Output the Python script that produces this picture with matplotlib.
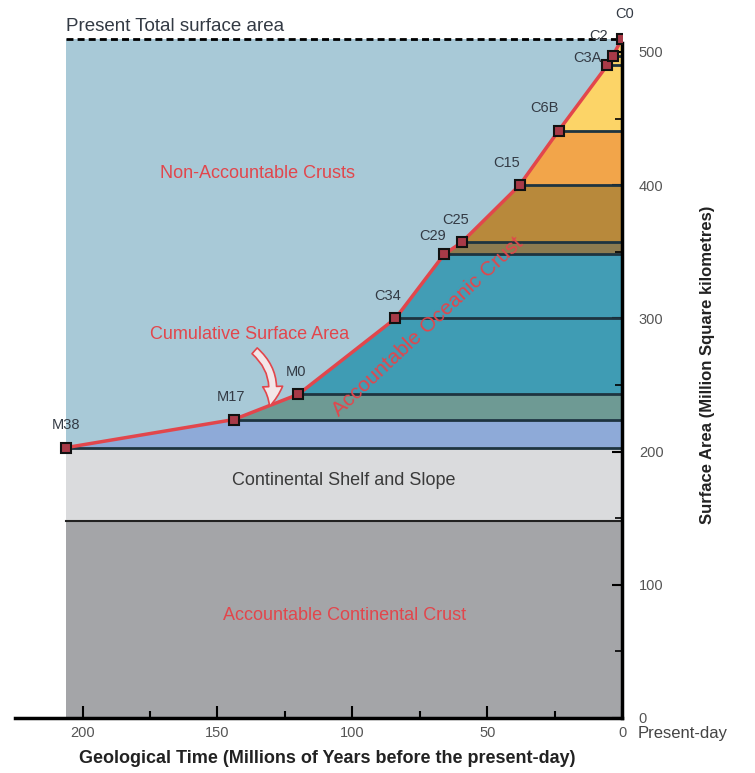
import matplotlib as mpl
mpl.use('Agg')
import matplotlib.pyplot as plt
from matplotlib.patches import FancyArrowPatch

plt.rcParams['font.family'] = ['Liberation Sans', 'DejaVu Sans']

# magnetic anomaly picks: age (Ma) and cumulative surface area (million km2)
chrons = ['M38', 'M17', 'M0', 'C34', 'C29', 'C25', 'C15', 'C6B', 'C3A', 'C2', 'C0']
ages = [206, 144, 120, 84, 66, 59.5, 38, 23.5, 5.5, 3.5, 0]
areas = [203, 224, 243, 300, 348, 357, 400, 441, 490, 497, 510]
band_colors = ['#8eaad8', '#6e9a94', '#3f9cb4', '#429db5', '#8c7b50',
               '#b8893b', '#f2a54a', '#fcd467', '#fcd467', '#fcd467']
label_offsets = [(0, 11), (-2, 11), (-2, 11), (-6, 11), (-8, 8), (-4, 11),
                 (-9, 11), (-10, 11), (-14, 0), (-10, 9), (2, 13)]

shelf_top = 203
continental_top = 148
total_area = 510
x_ticks = [200, 150, 100, 50, 0]
y_ticks = [0, 100, 200, 300, 400, 500]

red = '#e2464c'
dark = '#333a44'

fig = plt.figure(figsize=(7.55, 7.73), dpi=100)
ax = fig.add_axes([0.02, 0.0712, 0.804, 0.9133])
ax.set_xlim(225, 0)
ax.set_ylim(0, 530)

# background regions
ax.fill([ages[0], 0, 0, ages[0]], [0, 0, continental_top, continental_top], color='#a4a5a8', lw=0)
ax.fill([ages[0], 0, 0, ages[0]], [continental_top, continental_top, shelf_top, shelf_top], color='#dadbdd', lw=0)
ax.fill([ages[0], 0, 0, ages[0]], [shelf_top, shelf_top, total_area, total_area], color='#a8c9d7', lw=0)
ax.plot([ages[0], 0], [continental_top, continental_top], color='#222', lw=1.5)
ax.plot([ages[0], 0], [shelf_top, shelf_top], color='#1e3440', lw=2)

# accountable oceanic crust bands
for i in range(len(ages) - 1):
    ax.fill([ages[i], ages[i + 1], 0, 0], [areas[i], areas[i + 1], areas[i + 1], areas[i]],
            color=band_colors[i], lw=0)
for i in range(1, len(ages) - 1):
    ax.plot([ages[i], 0], [areas[i], areas[i]], color='#1e3440', lw=2)

# present total surface
ax.plot([ages[0], 0], [total_area, total_area], color='black', lw=2, ls=(0, (2.5, 1.5)))
ax.text(ages[0], total_area + 3, 'Present Total surface area', fontsize=13.5, color=dark,
        ha='left', va='bottom')

# cumulative curve
ax.plot(ages, areas, color=red, lw=2.5, zorder=5)
ax.plot(ages, areas, ls='none', marker='s', ms=7.5, mfc='#a83a48', mec='#111', mew=1.5, zorder=6)
for name, a, s, off in zip(chrons, ages, areas, label_offsets):
    ax.annotate(name, (a, s), xytext=off, textcoords='offset points', fontsize=10.5,
                color=dark, ha='center', va='bottom', zorder=7)

# region labels
ax.text(135, 409, 'Non-Accountable Crusts', fontsize=13, color=red, ha='center', va='center')
ax.text(138, 288, 'Cumulative Surface Area', fontsize=13, color=red, ha='center', va='center')
ax.text(103, 178, 'Continental Shelf and Slope', fontsize=13, color='#3a3a3a', ha='center', va='center')
ax.text(103, 77, 'Accountable Continental Crust', fontsize=13, color=red, ha='center', va='center')
ax.text(72, 294, 'Accountable Oceanic Crust', fontsize=15, color=red, ha='center', va='center',
        rotation=43, zorder=4)

arrow = FancyArrowPatch((137, 277), (131, 232), connectionstyle='arc3,rad=-0.35',
                        arrowstyle='simple,head_width=0.9,head_length=0.9,tail_width=0.35',
                        mutation_scale=16, fc='#f3e6e8', ec=red, lw=1.2, zorder=6)
ax.add_patch(arrow)

# axes styling
for side in ['left', 'top']:
    ax.spines[side].set_visible(False)
ax.spines['bottom'].set_linewidth(2.5)
ax.spines['right'].set_linewidth(2.5)
ax.spines['right'].set_bounds(0, 507)

ax.set_xticks(x_ticks)
ax.set_xticks([175, 125, 75, 25], minor=True)
ax.tick_params(axis='x', which='major', direction='in', length=9, width=1.5, labelsize=10.5,
               labelcolor='#555', pad=6)
ax.tick_params(axis='x', which='minor', direction='in', length=5, width=1.5)

ax.yaxis.tick_right()
ax.yaxis.set_label_position('right')
ax.set_yticks(y_ticks)
ax.set_yticks([50, 150, 250, 350, 450], minor=True)
ax.tick_params(axis='y', which='major', direction='in', length=7, width=1.5, labelsize=10.5,
               labelcolor='#555', pad=12)
ax.tick_params(axis='y', which='minor', direction='in', length=5, width=1.2)
ax.set_ylabel('Surface Area (Million Square kilometres)', fontsize=12, fontweight='bold',
              color='#222', labelpad=26)
ax.set_xlabel('Geological Time (Millions of Years before the present-day)', fontsize=13,
              fontweight='bold', color='#222', labelpad=2)
ax.xaxis.set_label_coords(0.515, -0.045)

fig.text(0.845, 0.051, 'Present-day', fontsize=12, color='#444', ha='left', va='center')

fig.savefig('out.png', dpi=100)
